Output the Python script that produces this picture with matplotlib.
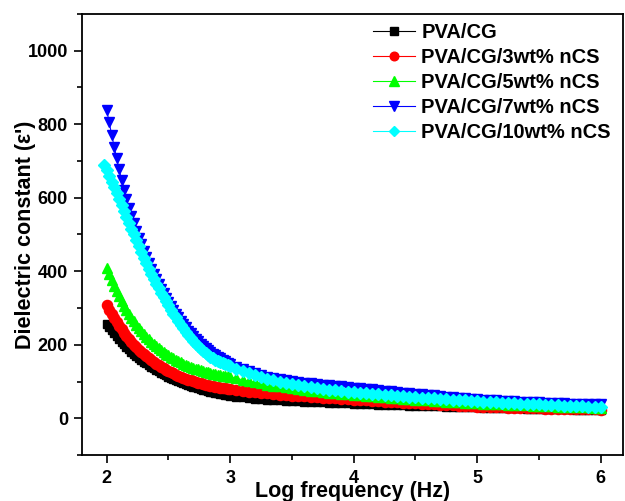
import matplotlib
matplotlib.use("Agg")
import matplotlib.pyplot as plt
from matplotlib.ticker import MultipleLocator
import numpy as np

plt.rcParams['font.family'] = ['Liberation Sans', 'DejaVu Sans']
plt.rcParams['font.weight'] = 'bold'

# measurement grid (log10 of frequency): dense up to 3, coarser after
log_f = np.concatenate([np.round(np.arange(2.00, 3.0001, 0.02), 2),
                        np.round(np.arange(3.05, 6.0001, 0.05), 2)])
log_f_10 = np.concatenate([[1.98], log_f])

pva_cg = [257, 248, 239.4, 231.1, 223.1, 215.5, 208.1, 201.1, 194.3, 187.8,
          181.6, 175.6, 169.9, 164.3, 159.1, 154.0, 149.1, 144.4, 139.9, 135.6,
          131.5, 127.5, 123.6, 120.0, 116.5, 113.1, 109.9, 106.7, 103.8, 100.9,
          98.1, 95.5, 92.9, 90.5, 88.2, 85.9, 83.8, 81.7, 79.7, 77.8,
          76.0, 74.2, 72.5, 70.9, 69.3, 67.8, 66.4, 65.0, 63.7, 62.4, 61.2,
          58.5, 56.5, 54.8, 53.3, 52.0, 50.8, 49.7, 48.7, 47.8, 47.0,
          46.2, 45.4, 44.7, 44.0, 43.3, 42.6, 41.9, 41.2, 40.5, 39.9,
          39.2, 38.6, 38.0, 37.4, 36.8, 36.2, 35.6, 35.0, 34.5, 34.0,
          33.5, 33.0, 32.5, 32.0, 31.5, 31.0, 30.5, 30.1, 29.7, 29.3,
          28.9, 28.5, 28.1, 27.7, 27.3, 26.9, 26.6, 26.2, 25.9, 25.5,
          25.2, 24.9, 24.6, 24.3, 24.0, 23.7, 23.4, 23.1, 22.8, 22.5]

ncs_3 = [307, 294.7, 282.9, 271.8, 261.2, 251.1, 241.6, 232.5, 223.9, 215.7,
         207.9, 200.5, 193.5, 186.8, 180.5, 174.4, 168.7, 163.3, 158.1, 153.2,
         148.5, 144.1, 139.9, 135.9, 132.1, 128.5, 125.1, 121.8, 118.7, 115.8,
         113.0, 110.4, 107.8, 105.4, 103.2, 101.0, 99.0, 97.0, 95.2, 93.4,
         91.7, 90.2, 88.7, 87.2, 85.9, 84.6, 83.3, 82.2, 81.1, 80.0, 79.0,
         76.6, 74.5, 72.6, 70.8, 69.1, 67.5, 66.0, 64.6, 63.2, 61.9,
         60.7, 59.5, 58.3, 57.2, 56.1, 55.0, 53.9, 52.9, 51.9, 50.9,
         49.8, 48.7, 47.6, 46.5, 45.4, 44.3, 43.2, 42.2, 41.2, 40.2,
         39.3, 38.4, 37.5, 36.6, 35.7, 34.8, 34.0, 33.2, 32.4, 31.6,
         31.0, 30.4, 29.9, 29.4, 28.9, 28.4, 28.0, 27.6, 27.2, 26.8,
         26.5, 26.2, 25.9, 25.6, 25.3, 25.0, 24.7, 24.4, 24.1, 23.8]

ncs_5 = [410, 392.6, 376.2, 360.7, 346.0, 332.1, 319.1, 306.7, 295.0, 283.9,
         273.5, 263.6, 254.3, 245.5, 237.1, 229.3, 221.8, 214.8, 208.1, 201.9,
         196.0, 190.3, 185.0, 180.0, 175.3, 170.8, 166.6, 162.6, 158.8, 155.3,
         151.9, 148.7, 145.7, 142.9, 140.2, 137.6, 135.2, 133.0, 130.8, 128.8,
         126.9, 125.1, 123.4, 121.7, 120.2, 118.8, 117.4, 116.2, 114.9, 113.8, 112.7,
         108.5, 104.6, 101.0, 97.7, 94.6, 91.7, 89.0, 86.4, 84.0, 81.7,
         79.5, 77.4, 75.4, 73.5, 71.7, 69.9, 68.2, 66.6, 65.0, 63.5,
         62.0, 60.6, 59.2, 57.9, 56.6, 55.3, 54.1, 52.9, 51.7, 50.6,
         49.5, 48.4, 47.4, 46.4, 45.4, 44.4, 43.5, 42.6, 41.7, 40.8,
         40.0, 39.2, 38.4, 37.6, 36.9, 36.2, 35.5, 34.8, 34.2, 33.6,
         33.0, 32.4, 31.8, 31.3, 30.8, 30.3, 29.8, 29.3, 28.8, 28.4]

ncs_7 = [839, 805, 772, 739, 708, 678, 649, 622, 597, 573,
         551, 530, 510, 491, 473, 455.5, 438.5, 422.5, 407, 392.5,
         378.5, 365, 352, 339.5, 327.5, 316, 305, 294.5, 284.5, 274.7,
         265.2, 256, 247.2, 238.7, 230.7, 223.1, 215.9, 209.1, 202.7, 196.7,
         191, 185.6, 180.5, 175.7, 171.2, 166.9, 162.8, 158.9, 155.2, 151.7, 148.4,
         140.5, 133.5, 127.3, 121.8, 117.0, 112.8, 109.2, 106.0, 103.2, 100.7,
         98.5, 96.5, 94.6, 92.8, 91.1, 89.5, 88.0, 86.5, 85.0, 83.5,
         81.9, 80.2, 78.5, 76.8, 75.1, 73.4, 71.7, 70.0, 68.4, 66.8,
         65.2, 63.6, 62.1, 60.6, 59.1, 57.6, 56.2, 54.8, 53.5, 52.2,
         51.0, 49.9, 48.8, 47.8, 46.9, 46.0, 45.2, 44.4, 43.7, 43.0,
         42.4, 41.8, 41.2, 40.6, 40.1, 39.6, 39.1, 38.6, 38.1, 37.6]

ncs_10 = [688, 676, 660, 644, 628, 612, 596, 580, 564, 548, 532,
          516, 500, 484, 468, 452, 436.5, 421.5, 407, 393, 379.5,
          366.5, 354, 342, 330, 318.3, 306.9, 295.8, 285, 274.5, 264.3,
          254.4, 244.8, 235.5, 226.5, 218, 210, 202.5, 195.5, 189, 183,
          177.5, 172.5, 167.9, 163.7, 159.8, 156.2, 152.9, 149.8, 146.9, 144.2, 141.7,
          135.0, 128.5, 122.5, 117.0, 112.0, 107.5, 103.3, 99.4, 95.8, 92.5,
          89.5, 86.7, 84.1, 81.7, 79.5, 77.5, 75.6, 73.8, 72.1, 70.5,
          69.0, 67.6, 66.2, 64.9, 63.6, 62.3, 61.0, 59.8, 58.6, 57.4,
          56.2, 55.0, 53.9, 52.8, 51.7, 50.6, 49.5, 48.5, 47.5, 46.5,
          45.5, 44.5, 43.6, 42.7, 41.8, 40.9, 40.0, 39.2, 38.4, 37.6,
          36.8, 36.0, 35.3, 34.6, 33.9, 33.2, 32.5, 31.8, 31.2, 30.6]

labels = ['PVA/CG', 'PVA/CG/3wt% nCS', 'PVA/CG/5wt% nCS',
          'PVA/CG/7wt% nCS', 'PVA/CG/10wt% nCS']

fig = plt.figure(figsize=(6.25, 5.01), dpi=100)
ax = fig.add_axes([82 / 625, 1 - 455 / 501, 541 / 625, 441 / 501])

ax.plot(log_f, pva_cg, '-s', color='black', ms=6.3, lw=0.8, label=labels[0])
ax.plot(log_f, ncs_3, '-o', color='#ff0000', ms=7.3, lw=0.8, label=labels[1])
ax.plot(log_f, ncs_5, '-^', color='#00ff00', ms=7.8, lw=0.8, label=labels[2])
ax.plot(log_f, ncs_7, '-v', color='#0000ff', ms=7.8, lw=0.8, label=labels[3])
ax.plot(log_f_10, ncs_10, '-D', color='#00ffff', ms=5.8, lw=0.8, label=labels[4])

ax.set_xlim(1.8, 6.18)
ax.set_ylim(-100, 1100)
ax.xaxis.set_major_locator(MultipleLocator(1))
ax.xaxis.set_minor_locator(MultipleLocator(0.5))
ax.yaxis.set_major_locator(MultipleLocator(200))
ax.yaxis.set_minor_locator(MultipleLocator(100))
ax.tick_params(which='major', direction='out', length=6, width=1.2,
               labelsize=13, pad=4)
ax.tick_params(axis='x', which='major', pad=4.5)
ax.tick_params(which='minor', direction='out', length=3.5, width=1.2)
for s in ax.spines.values():
    s.set_linewidth(1.3)

ax.set_xlabel('Log frequency (Hz)', fontsize=15.5, fontweight='bold')
ax.set_ylabel("Dielectric constant (ε')", fontsize=15.5, fontweight='bold')
ax.xaxis.set_label_coords(0.5, -0.06)
ax.yaxis.set_label_coords(-0.085, 0.5)

leg = ax.legend(loc='upper left', bbox_to_anchor=(373 / 625, 1 - 23 / 501),
                bbox_transform=fig.transFigure, frameon=False, fontsize=14.5,
                numpoints=1, handlelength=2.1, handletextpad=0.3,
                labelspacing=0.3, borderpad=0, borderaxespad=0,
                markerscale=0.85)

fig.savefig('out.png', dpi=100)
